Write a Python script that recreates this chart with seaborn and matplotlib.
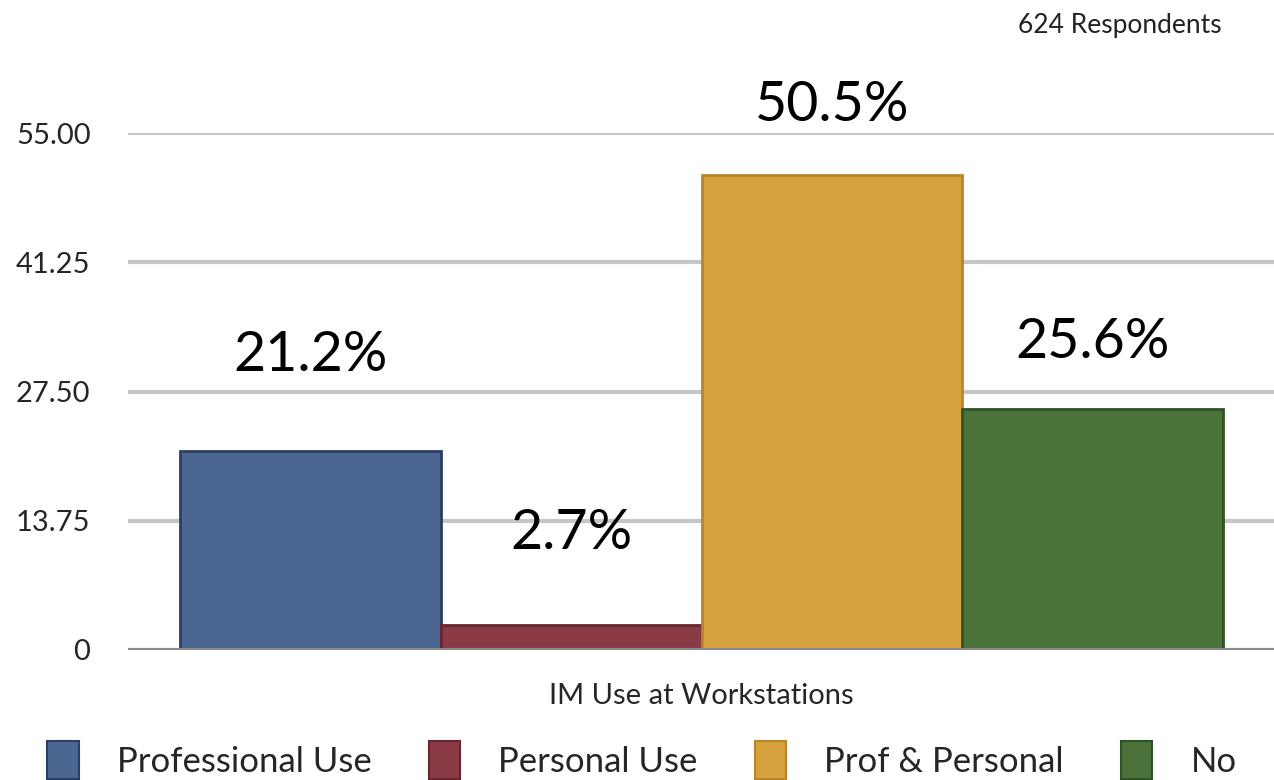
import matplotlib
matplotlib.use("Agg")
import matplotlib.pyplot as plt
import seaborn as sns
import pandas as pd
from matplotlib.patches import Patch

categories = ["Professional Use", "Personal Use", "Prof & Personal", "No"]
values = [21.2, 2.7, 50.5, 25.6]
value_labels = ["21.2%", "2.7%", "50.5%", "25.6%"]
yticks = [0, 13.75, 27.50, 41.25, 55.00]
ytick_labels = ["0", "13.75", "27.50", "41.25", "55.00"]
xlabel = "IM Use at Workstations"
note = "624 Respondents"

colors = ["#4b6690", "#8b3b46", "#d6a23e", "#4a7239"]
edges = ["#2a3f66", "#6a2430", "#b98526", "#2f5226"]
label_offsets = [70, 66, 44, 41]  # pixels above bar tops

sns.set_theme(style="white")
plt.rcParams["font.family"] = ["Lato", "DejaVu Sans"]

fig = plt.figure(figsize=(12.74, 7.8), dpi=100)
ax = fig.add_axes([128 / 1274, 130 / 780, (1274 - 128) / 1274, (650 - 133) / 780])

df = pd.DataFrame({"cat": categories, "val": values})
sns.barplot(data=df, x="cat", y="val", hue="cat", palette=colors, width=1.0,
            legend=False, ax=ax, linewidth=2, saturation=1)
for p, ec in zip(ax.patches, edges):
    p.set_edgecolor(ec)
    p.set_zorder(3)

ax.set_xlim(-0.7, 3.696)
ax.set_ylim(0, 55)
ax.set_yticks(yticks)
ax.set_yticklabels(ytick_labels, fontsize=21)
ax.tick_params(axis="y", length=0, pad=27)
for lab in ax.get_yticklabels():
    lab.set_horizontalalignment("right")
ax.set_xticks([])
ax.set_xlabel(xlabel, fontsize=21, labelpad=24)
ax.set_ylabel("")
for s in ax.spines.values():
    s.set_visible(False)
for t in yticks[1:]:
    ax.axhline(t, color="#c6c6c6", lw=3, zorder=1)
ax.axhline(0, color="#8a8a8a", lw=3, zorder=4)

for i, (v, lbl, off) in enumerate(zip(values, value_labels, label_offsets)):
    ax.annotate(lbl, (i, v), xytext=(0, off * 0.72), textcoords="offset points",
                ha="center", va="bottom", fontsize=40, color="black",
                annotation_clip=False, zorder=5)

fig.text(1222 / 1274, 1 - 25 / 780, note, ha="right", va="center", fontsize=19,
         color="#222222")

handles = [Patch(facecolor=c, edgecolor=e, lw=1.5) for c, e in zip(colors, edges)]
fig.legend(handles, categories, loc="center", bbox_to_anchor=(0.504, 20 / 780),
           ncol=4, frameon=False, fontsize=25, handlelength=0.9, handleheight=1.3,
           columnspacing=1.65, handletextpad=1.1)

fig.savefig("out.png", dpi=100, facecolor="white")
